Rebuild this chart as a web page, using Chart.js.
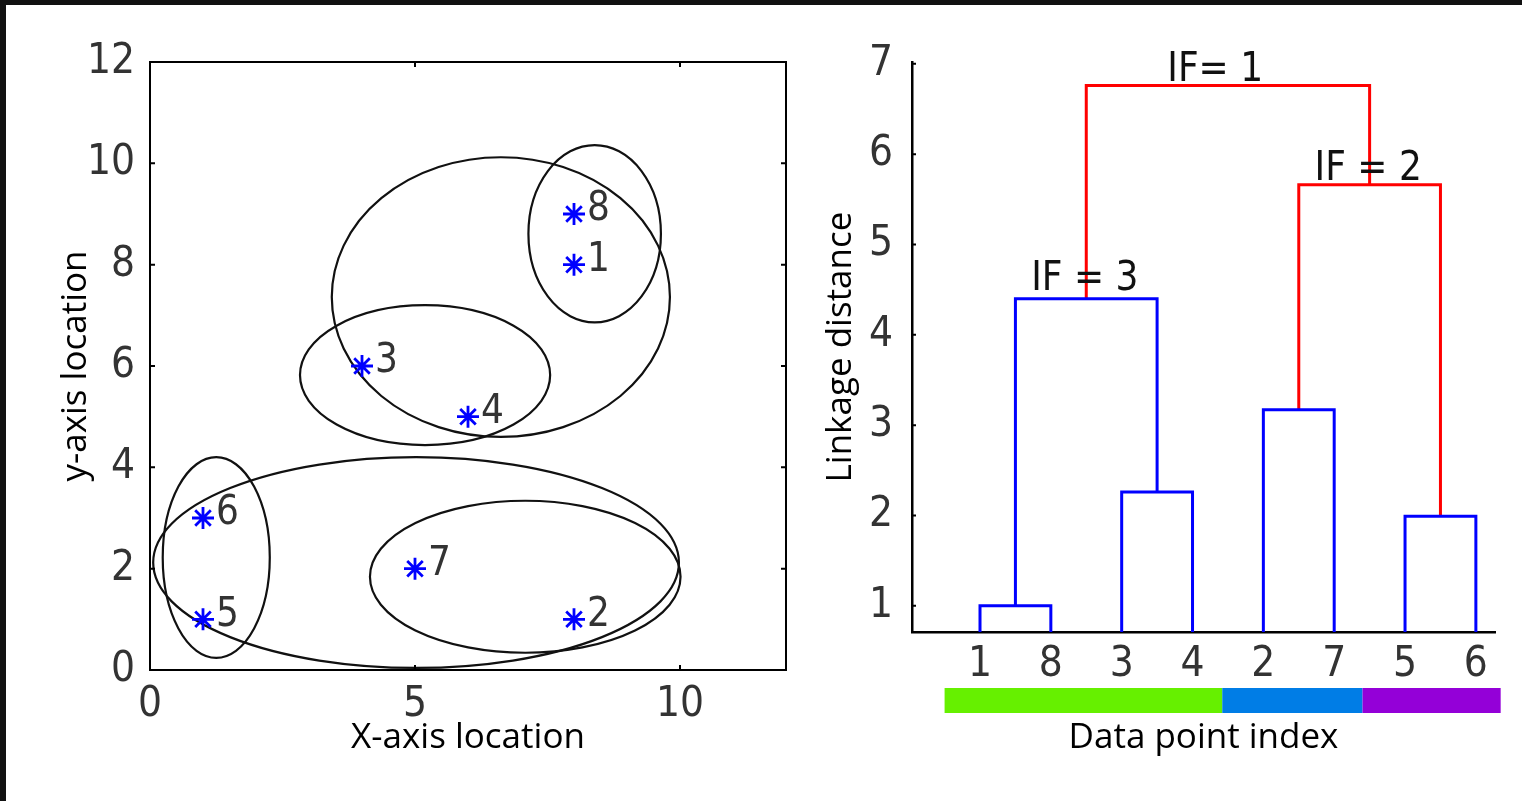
<!DOCTYPE html>
<html>
<head>
<meta charset="utf-8">
<script src="https://cdn.jsdelivr.net/npm/chart.js@4.4.1/dist/chart.umd.min.js"></script>
<style>
  html, body { margin: 0; padding: 0; background: #fff; }
  body { width: 1522px; height: 801px; position: relative; overflow: hidden; }
  #frame { position: absolute; left: 0; top: 0; width: 1522px; height: 801px;
           border-top: 5px solid #111; border-left: 6px solid #111; box-sizing: border-box; }
  canvas { position: absolute; top: 0; }
  #scatter { left: 0; }
  #dendro { left: 800px; }
</style>
</head>
<body>
<div id="frame"></div>
<canvas id="scatter" width="810" height="801"></canvas>
<canvas id="dendro" width="722" height="801"></canvas>
<script>
// left panel: 8 points and the cluster ellipses
const pointIds = ["1", "2", "3", "4", "5", "6", "7", "8"];
const pointX = [8, 8, 4, 6, 1, 1, 5, 8];
const pointY = [8, 1, 6, 5, 1, 3, 2, 9];

const ellipseCx = [8.39, 6.62, 5.19, 1.25, 5.02, 7.08];
const ellipseCy = [8.61, 7.36, 5.82, 2.22, 2.12, 1.84];
const ellipseRx = [1.25, 3.19, 2.36, 1.01, 4.96, 2.93];
const ellipseRy = [1.75, 2.76, 1.38, 1.98, 2.08, 1.50];

const scatterXTicks = [0, 5, 10];
const scatterYTicks = [0, 2, 4, 6, 8, 10, 12];

// right panel: dendrogram
const leafLabels = ["1", "8", "3", "4", "2", "7", "5", "6"];
const leafPos = [1, 2, 3, 4, 5, 6, 7, 8];
const linkLeftX = [1, 3, 5, 7, 1.5, 5.5, 2.5];
const linkRightX = [2, 4, 6, 8, 3.5, 7.5, 6.5];
const linkHeight = [1.0, 2.26, 3.17, 1.99, 4.4, 5.66, 6.76];
const linkLeftBase = [0, 0, 0, 0, 1.0, 3.17, 4.4];
const linkRightBase = [0, 0, 0, 0, 2.26, 1.99, 5.66];
const linkColor = ["#0000ff", "#0000ff", "#0000ff", "#0000ff", "#0000ff", "#ff0000", "#ff0000"];
const dendroYTicks = [1, 2, 3, 4, 5, 6, 7];

const ifText = ["IF= 1", "IF = 2", "IF = 3"];
const ifX = [4.32, 6.48, 2.48];
const ifY = [6.93, 5.83, 4.61];

const groupEdges = [0.5, 4.42, 6.4, 8.35];
const groupColors = ["#66f000", "#007de6", "#9400d8"];

const narrow = "'Liberation Sans Narrow', 'DejaVu Sans Condensed', sans-serif";
const titleFont = { family: "'Open Sans', sans-serif", size: 35 };
const tickFont = { family: narrow, size: 42 };

const ellipses = {
  id: "ellipses",
  beforeDatasetsDraw(chart) {
    const { ctx, scales: { x, y } } = chart;
    ctx.save();
    ctx.strokeStyle = "#111";
    ctx.lineWidth = 2.2;
    ellipseCx.forEach((cx, i) => {
      const px = x.getPixelForValue(cx);
      const py = y.getPixelForValue(ellipseCy[i]);
      const rx = Math.abs(x.getPixelForValue(cx + ellipseRx[i]) - px);
      const ry = Math.abs(y.getPixelForValue(ellipseCy[i] + ellipseRy[i]) - py);
      ctx.beginPath();
      ctx.ellipse(px, py, rx, ry, 0, 0, Math.PI * 2);
      ctx.stroke();
    });
    ctx.restore();
  },
  afterDatasetsDraw(chart) {
    const { ctx, chartArea: a, scales: { x, y } } = chart;
    ctx.save();
    // point numbers
    ctx.fillStyle = "#333";
    ctx.font = "40px " + narrow;
    ctx.textBaseline = "middle";
    ctx.textAlign = "left";
    pointIds.forEach((id, i) => {
      ctx.fillText(id, x.getPixelForValue(pointX[i]) + 13, y.getPixelForValue(pointY[i]) - 4);
    });
    // box and inner ticks
    ctx.strokeStyle = "#000";
    ctx.lineWidth = 2;
    ctx.strokeRect(a.left, a.top, a.right - a.left, a.bottom - a.top);
    ctx.beginPath();
    scatterXTicks.forEach(v => {
      const px = x.getPixelForValue(v);
      ctx.moveTo(px, a.bottom); ctx.lineTo(px, a.bottom - 5);
      ctx.moveTo(px, a.top); ctx.lineTo(px, a.top + 5);
    });
    scatterYTicks.forEach(v => {
      const py = y.getPixelForValue(v);
      ctx.moveTo(a.left, py); ctx.lineTo(a.left + 5, py);
      ctx.moveTo(a.right, py); ctx.lineTo(a.right - 5, py);
    });
    ctx.stroke();
    ctx.restore();
  }
};

new Chart(document.getElementById("scatter"), {
  type: "scatter",
  data: {
    datasets: [{
      data: pointX.map((v, i) => ({ x: v, y: pointY[i] })),
      pointStyle: "star",
      pointRadius: 11,
      borderColor: "#0000ff",
      backgroundColor: "#0000ff",
      borderWidth: 2.8
    }]
  },
  options: {
    responsive: false,
    animation: false,
    layout: { padding: { top: 62, right: 24, left: 0, bottom: 0 } },
    plugins: { legend: { display: false }, tooltip: { enabled: false } },
    scales: {
      x: {
        type: "linear", min: 0, max: 12,
        afterBuildTicks: s => { s.ticks = scatterXTicks.map(v => ({ value: v })); },
        afterFit: s => { s.height = 131; },
        grid: { display: false, drawTicks: false },
        border: { display: false },
        ticks: { font: tickFont, color: "#333", padding: 10, maxRotation: 0 },
        title: { display: true, text: "X-axis location", font: titleFont, color: "#000", padding: { top: 0, bottom: 42 } }
      },
      y: {
        type: "linear", min: 0, max: 12,
        afterBuildTicks: s => { s.ticks = scatterYTicks.map(v => ({ value: v })); },
        afterFit: s => { s.width = 150; },
        grid: { display: false, drawTicks: false },
        border: { display: false },
        ticks: { font: tickFont, color: "#333", padding: 15 },
        title: { display: true, text: "y-axis location", font: titleFont, color: "#000", padding: { top: 55, bottom: 0 } }
      }
    }
  },
  plugins: [ellipses]
});

const dendroExtras = {
  id: "dendroExtras",
  afterDatasetsDraw(chart) {
    const { ctx, chartArea: a, scales: { x, y } } = chart;
    ctx.save();
    // inner ticks on the y axis
    ctx.strokeStyle = "#000";
    ctx.lineWidth = 2;
    ctx.beginPath();
    dendroYTicks.forEach(v => {
      const py = y.getPixelForValue(v);
      ctx.moveTo(a.left, py); ctx.lineTo(a.left + 4, py);
    });
    ctx.stroke();
    // IF labels
    ctx.fillStyle = "#111";
    ctx.font = "40px " + narrow;
    ctx.textAlign = "center";
    ctx.textBaseline = "middle";
    ifText.forEach((t, i) => ctx.fillText(t, x.getPixelForValue(ifX[i]), y.getPixelForValue(ifY[i])));
    // group colour bar
    groupColors.forEach((c, i) => {
      const x0 = x.getPixelForValue(groupEdges[i]);
      const x1 = x.getPixelForValue(groupEdges[i + 1]);
      ctx.fillStyle = c;
      ctx.fillRect(x0, a.bottom + 56, x1 - x0, 25);
    });
    ctx.restore();
  }
};

new Chart(document.getElementById("dendro"), {
  type: "scatter",
  data: {
    datasets: linkHeight.map((h, i) => ({
      data: [
        { x: linkLeftX[i], y: linkLeftBase[i] },
        { x: linkLeftX[i], y: h },
        { x: linkRightX[i], y: h },
        { x: linkRightX[i], y: linkRightBase[i] }
      ],
      showLine: true,
      borderColor: linkColor[i],
      borderWidth: 3,
      pointRadius: 0,
      tension: 0
    }))
  },
  options: {
    responsive: false,
    animation: false,
    layout: { padding: { top: 62, right: 27, left: 0, bottom: 0 } },
    plugins: { legend: { display: false }, tooltip: { enabled: false } },
    scales: {
      x: {
        type: "linear", min: 0.04, max: 8.27,
        afterBuildTicks: s => { s.ticks = leafPos.map(v => ({ value: v })); },
        afterFit: s => { s.height = 169; },
        grid: { display: false, drawTicks: false },
        border: { display: true, color: "#000", width: 2.5 },
        ticks: { font: tickFont, color: "#333", padding: 8, maxRotation: 0,
                 callback: (v, i) => leafLabels[i] },
        title: { display: true, text: "Data point index", font: titleFont, color: "#000", padding: { top: 0, bottom: 42 } }
      },
      y: {
        type: "linear", min: 0.71, max: 7.02,
        afterBuildTicks: s => { s.ticks = dendroYTicks.map(v => ({ value: v })); },
        afterFit: s => { s.width = 112; },
        grid: { display: false, drawTicks: false },
        border: { display: true, color: "#000", width: 2.5 },
        ticks: { font: tickFont, color: "#333", padding: 19 },
        title: { display: true, text: "Linkage distance", font: titleFont, color: "#000", padding: { top: 20, bottom: 0 } }
      }
    }
  },
  plugins: [dendroExtras]
});
</script>
</body>
</html>
